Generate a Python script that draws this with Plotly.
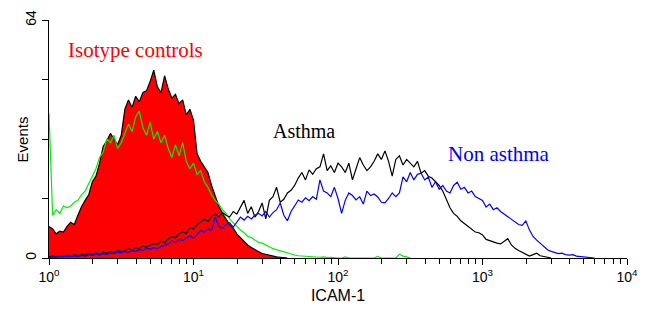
import plotly.graph_objects as go

# Channel scale: log-spaced histogram bins, 0.025 decade per channel, starting at 10^0
BIN_STEP_DECADES = 0.025

# Isotype control (asthma) - red filled histogram with black outline
isotype_red = [8.5, 7.8, 6.5, 7.2, 7.0, 8.5, 9.6, 9.0, 11.5, 13.8, 15.5, 17.0, 20.5, 22.0, 25.5,
               30.0, 31.5, 33.5, 32.0, 30.5, 33.0, 40.0, 42.5, 40.5, 43.5, 42.0, 44.5, 45.0, 47.5,
               50.5, 46.0, 44.5, 49.0, 45.5, 43.0, 44.0, 41.5, 42.5, 38.5, 40.0, 37.0, 28.0, 26.0,
               24.5, 23.0, 19.5, 16.5, 14.0, 12.0, 10.5, 9.0, 8.0, 6.5, 5.5, 4.5, 3.5, 2.8, 2.2,
               1.6, 1.2, 1.0, 0.7, 0.5, 0.3, 0.2, 0.1, 0.0]

# Isotype control (non asthma) - green line
isotype_green = [39.0, 11.5, 13.0, 12.0, 14.0, 13.5, 14.0, 15.0, 15.5, 17.0, 18.0, 20.0, 22.0, 24.0,
                 27.0, 28.5, 32.0, 31.0, 33.0, 29.5, 31.0, 33.5, 36.0, 34.0, 38.0, 39.5, 35.0, 33.0,
                 36.5, 32.0, 34.0, 31.0, 33.0, 29.5, 27.0, 30.5, 27.5, 31.0, 26.0, 24.0, 25.5, 22.5,
                 23.5, 20.5, 19.0, 17.0, 15.5, 14.5, 13.0, 12.0, 10.5, 9.5, 8.5, 7.5, 6.8, 5.8, 5.5,
                 4.8, 4.2, 4.0, 3.6, 3.0, 2.5, 2.2, 1.8, 1.5, 1.2, 1.0, 0.8, 0.6, 0.5, 0.4, 0.3, 0.2,
                 0.3, 0.2, 0.3, 0.1, 0.2, 0.0, 0.0, 0.0, 0.3, 0.0, 0.0, 0.0, 0.0, 0.0, 0.0, 0.0, 0.0,
                 0.4, 0.0, 0.0, 0.0, 0.0, 0.0, 1.0, 0.5, 0.3, 0.0]

# ICAM-1 staining, asthma - black line
asthma = [0.3, 0.5, 0.3, 0.6, 0.4, 0.8, 0.5, 0.9, 0.6, 1.0, 0.8, 1.2, 1.0, 1.4, 1.1, 1.6, 1.3, 1.8,
          1.5, 2.0, 1.7, 2.2, 2.5, 2.1, 2.8, 2.6, 3.2, 2.9, 3.4, 3.9, 3.6, 4.5, 4.1, 5.2, 5.8, 5.4,
          6.5, 7.0, 6.6, 8.2, 7.8, 9.0, 9.6, 10.5, 9.8, 11.2, 11.8, 11.0, 12.3, 11.5, 11.0, 12.5,
          11.8, 13.5, 15.5, 12.0, 13.8, 11.0, 12.5, 14.8, 10.5, 15.5, 16.5, 19.0, 15.0, 15.8, 17.5,
          18.2, 19.5, 21.5, 23.0, 21.0, 23.7, 22.5, 24.0, 24.5, 28.0, 23.5, 24.8, 23.0, 25.5, 24.5,
          23.0, 25.5, 21.0, 24.0, 27.0, 25.0, 23.5, 24.5, 26.0, 28.0, 26.5, 28.8, 26.0, 22.0, 26.5,
          27.5, 25.0, 26.5, 25.5, 24.5, 26.0, 22.8, 23.5, 22.0, 21.5, 20.5, 19.5, 18.0, 15.5, 13.5,
          12.0, 11.2, 10.0, 9.2, 8.5, 7.8, 7.0, 6.8, 6.2, 5.0, 4.6, 4.2, 4.0, 3.8, 4.5, 5.2, 3.5,
          2.6, 2.0, 1.5, 0.8, 0.5, 0.9, 1.3, 0.6, 0.3, 0.2, 0.0]

# ICAM-1 staining, non asthma - blue line
non_asthma = [0.2, 0.3, 0.2, 0.4, 0.3, 0.5, 0.3, 0.6, 0.4, 0.7, 0.5, 0.9, 0.7, 1.0, 0.8, 1.2, 1.0,
              1.4, 1.2, 1.6, 1.4, 1.8, 1.5, 2.0, 1.8, 2.3, 2.0, 2.6, 2.4, 2.8, 2.5, 3.1, 3.4, 3.8,
              4.6, 4.2, 5.0, 4.7, 5.4, 5.9, 5.3, 6.5, 7.5, 7.0, 7.9, 7.4, 11.0, 8.5, 8.0, 9.0, 9.5,
              8.3, 9.8, 11.0, 10.2, 11.2, 10.5, 11.5, 12.0, 11.3, 12.5, 11.0, 12.2, 13.0, 14.8, 11.5,
              10.0, 12.5, 14.0, 15.6, 15.0, 16.2, 15.4, 16.5, 15.8, 21.0, 18.0, 17.5, 16.5, 19.0,
              16.0, 12.0, 15.5, 17.5, 16.8, 15.6, 16.5, 14.5, 18.0, 16.8, 17.2, 16.4, 15.0, 14.8,
              16.0, 17.5, 16.5, 17.5, 21.8, 20.5, 23.0, 21.0, 22.5, 22.8, 21.0, 21.8, 19.0, 20.5,
              18.5, 19.5, 18.0, 17.5, 19.5, 20.4, 18.5, 19.0, 17.5, 18.0, 16.5, 16.0, 15.5, 13.7,
              14.5, 13.0, 13.5, 12.5, 11.8, 11.0, 10.5, 9.8, 9.0, 8.8, 10.0, 7.5, 5.8, 4.8, 4.0, 3.0,
              2.2, 1.8, 1.5, 1.2, 1.3, 0.9, 0.8, 0.9, 0.5, 0.4, 0.5, 0.3, 0.3, 0.0]

x_tick_values = [1, 10, 100, 1000, 10000]
x_tick_labels = ["10<sup>0</sup>", "10<sup>1</sup>", "10<sup>2</sup>", "10<sup>3</sup>", "10<sup>4</sup>"]
y_tick_values = [0, 16, 32, 48, 64]
y_tick_labels = ["0", "", "", "", "64"]


def channels(counts):
    return [10 ** (i * BIN_STEP_DECADES) for i in range(len(counts))]


minor_ticks = [m * 10 ** d for d in range(4) for m in range(2, 10)]

fig = go.Figure()
fig.add_trace(go.Scatter(x=channels(isotype_red), y=isotype_red, mode="lines",
                         fill="tozeroy", fillcolor="#ff0000",
                         line=dict(color="black", width=1.2), name="Isotype asthma"))
fig.add_trace(go.Scatter(x=channels(isotype_green), y=isotype_green, mode="lines",
                         line=dict(color="#00ee00", width=1.2), name="Isotype non asthma"))
fig.add_trace(go.Scatter(x=channels(asthma), y=asthma, mode="lines",
                         line=dict(color="black", width=1.2), name="Asthma"))
fig.add_trace(go.Scatter(x=channels(non_asthma), y=non_asthma, mode="lines",
                         line=dict(color="#0000ff", width=1.2), name="Non asthma"))

sans = "Liberation Sans, Arial, sans-serif"
serif = "Liberation Serif, Times New Roman, serif"
axis_font = dict(family=sans, size=14, color="black")

fig.update_layout(
    width=650, height=312,
    margin=dict(l=49, r=23, t=20, b=54),
    paper_bgcolor="white", plot_bgcolor="white",
    showlegend=False,
    xaxis=dict(type="log", range=[0, 4], showgrid=False, zeroline=False, automargin=False,
               showline=True, linecolor="black", linewidth=1,
               ticks="outside", ticklen=6, tickcolor="black", tickwidth=1,
               tickmode="array", tickvals=x_tick_values, ticktext=x_tick_labels,
               tickfont=axis_font,
               minor=dict(tickmode="array", tickvals=minor_ticks, ticks="outside",
                          ticklen=5, tickcolor="black", tickwidth=1, showgrid=False),
               title=dict(text="ICAM-1", font=dict(family=sans, size=16, color="black"),
                          standoff=6)),
    yaxis=dict(range=[0, 64], showgrid=False, zeroline=False, automargin=False,
               showline=True, linecolor="black", linewidth=1,
               ticks="outside", ticklen=6, tickcolor="black", tickwidth=1,
               tickmode="array", tickvals=y_tick_values, ticktext=y_tick_labels,
               tickangle=-90, tickfont=axis_font),
    annotations=[
        dict(text="Events", xref="paper", yref="paper", x=-0.046, y=0.5,
             xanchor="center", yanchor="middle", textangle=-90, showarrow=False,
             font=dict(family=sans, size=15, color="black")),
        dict(text="Isotype controls", xref="paper", yref="paper", x=0.029, y=0.874,
             xanchor="left", yanchor="middle", showarrow=False,
             font=dict(family=serif, size=21, color="#ff0000")),
        dict(text="Asthma", xref="paper", yref="paper", x=0.384, y=0.534,
             xanchor="left", yanchor="middle", showarrow=False,
             font=dict(family=serif, size=20, color="black")),
        dict(text="Non asthma", xref="paper", yref="paper", x=0.687, y=0.437,
             xanchor="left", yanchor="middle", showarrow=False,
             font=dict(family=serif, size=21, color="#0000ff")),
    ],
)

fig.write_html("out.html", config={"displayModeBar": False},
               post_script="document.body.style.margin='0';document.body.style.overflow='hidden';")
